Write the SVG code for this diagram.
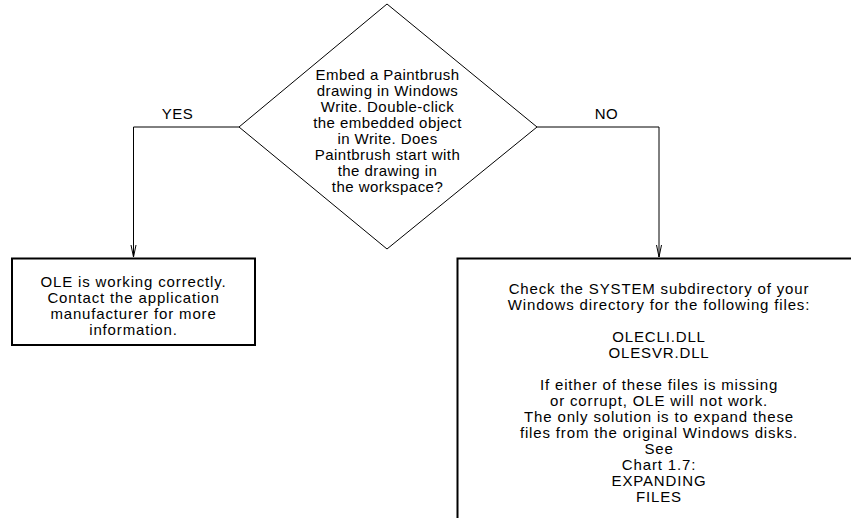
<svg xmlns="http://www.w3.org/2000/svg" width="851" height="518" viewBox="0 0 851 518">
<style>
text{font-family:"Liberation Sans",Arial,sans-serif;font-size:15px;fill:#000;text-anchor:middle;letter-spacing:0.45px}
.bt{letter-spacing:0.85px}
.shape{fill:#fff;stroke:#000;stroke-width:1}
.box{fill:#fff;stroke:#000;stroke-width:2}
.conn{fill:none;stroke:#000;stroke-width:1}
</style>
<defs>
<marker id="arr" markerWidth="14" markerHeight="8" refX="12" refY="3" orient="auto" markerUnits="userSpaceOnUse" viewBox="0 0 14 6">
<path d="M0,0.5 L12,3 L0,5.5" fill="none" stroke="#000" stroke-width="1"/>
</marker>
</defs>
<rect width="851" height="518" fill="#fff"/>
<g id="connectors">
<path class="conn" d="M239,127 H133.5 V257" marker-end="url(#arr)"/>
<path class="conn" d="M537,127 H659 V257" marker-end="url(#arr)"/>
<text x="177.5" y="119">YES</text>
<text x="606.5" y="119">NO</text>
</g>
<g id="decision">
<polygon class="shape" points="387,4 537,127 387,249 239,127"/>
<text x="387.5" y="80">Embed a Paintbrush</text>
<text x="387.5" y="96">drawing in Windows</text>
<text x="387.5" y="112">Write. Double-click</text>
<text x="387.5" y="128">the embedded object</text>
<text x="387.5" y="144">in Write. Does</text>
<text x="387.5" y="160">Paintbrush start with</text>
<text x="387.5" y="176">the drawing in</text>
<text x="387.5" y="192">the workspace?</text>
</g>
<g id="yes-box">
<rect class="box" x="12" y="258.5" width="243" height="86.5"/>
<text class="bt" x="133.5" y="287">OLE is working correctly.</text>
<text class="bt" x="133.5" y="303">Contact the application</text>
<text class="bt" x="133.5" y="319">manufacturer for more</text>
<text class="bt" x="133.5" y="335">information.</text>
</g>
<g id="no-box">
<rect class="box" x="457.5" y="258.5" width="410" height="300"/>
<text class="bt" x="659" y="294">Check the SYSTEM subdirectory of your</text>
<text class="bt" x="659" y="310">Windows directory for the following files:</text>
<text class="bt" x="659" y="342">OLECLI.DLL</text>
<text class="bt" x="659" y="358">OLESVR.DLL</text>
<text class="bt" x="659" y="390">If either of these files is missing</text>
<text class="bt" x="659" y="406">or corrupt, OLE will not work.</text>
<text class="bt" x="659" y="422">The only solution is to expand these</text>
<text class="bt" x="659" y="438">files from the original Windows disks.</text>
<text class="bt" x="659" y="454">See</text>
<text class="bt" x="659" y="470">Chart 1.7:</text>
<text class="bt" x="659" y="486">EXPANDING</text>
<text class="bt" x="659" y="502">FILES</text>
</g>
</svg>
